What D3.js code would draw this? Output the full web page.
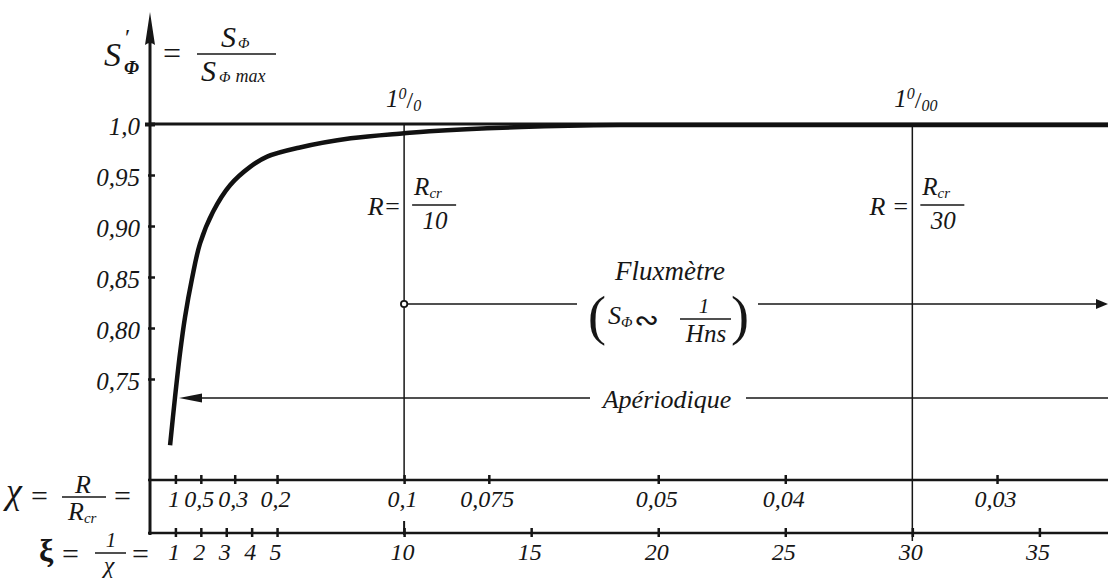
<!DOCTYPE html>
<html>
<head>
<meta charset="utf-8">
<script src="https://cdn.jsdelivr.net/npm/d3@7"></script>
<style>
  body { margin: 0; background: #fff; }
  svg { display: block; }
  text { font-family: "Liberation Serif", "Times New Roman", Tinos, "DejaVu Serif", "Noto Serif", serif; fill: #161616; }
</style>
</head>
<body>
<svg id="chart"></svg>
<script>
// S'_phi, against xi = 1/chi = Rcr/R
const xiValues = [0.79, 0.98, 1.18, 1.38, 1.65, 1.97, 2.48, 3.15, 3.94, 4.61, 5.9, 7.9, 10, 11, 14.6, 18.5, 24, 30, 37.7];
const sValues  = [0.685, 0.731, 0.775, 0.811, 0.848, 0.883, 0.914, 0.940, 0.958, 0.968, 0.977, 0.986, 0.991, 0.993, 0.997, 0.999, 0.999, 0.999, 0.999];

// vertical axis
const yTicks = [0.75, 0.80, 0.85, 0.90, 0.95, 1.0];
const yTickLabels = ['0,75', '0,80', '0,85', '0,90', '0,95', '1,0'];

// upper scale chi = R/Rcr
const chiTicks = [1, 0.5, 0.3, 0.2, 0.1, 0.075, 0.05, 0.04, 0.03];
const chiTickLabels = ['1', '0,5', '0,3', '0,2', '0,1', '0,075', '0,05', '0,04', '0,03'];

// lower scale xi = 1/chi
const xiTicks = [1, 2, 3, 4, 5, 10, 15, 20, 25, 30, 35];
const xiTickLabels = ['1', '2', '3', '4', '5', '10', '15', '20', '25', '30', '35'];

// the two marked resistances
const markerXi = [10, 30];
const markerDen = ['10', '30'];
const markerPermil = ['0', '00'];

const FONT = '"Liberation Serif", "Times New Roman", Tinos, serif';

class DampingChart {
    constructor(_config) {
        this.config = {
            parentElement: _config.parentElement,
            containerWidth: 1108,
            containerHeight: 580,
            axisX: 150,
            xMax: 37.7,
            chiY: 480,
            xiY: 533,
            fluxY: 304,
            aperY: 398
        };
        this.initVis();
    }

    initVis() {
        let vis = this;
        vis.svg = d3.select(vis.config.parentElement)
            .attr('width', vis.config.containerWidth)
            .attr('height', vis.config.containerHeight);

        vis.x = d3.scaleLinear()
            .domain([0, vis.config.xMax])
            .range([vis.config.axisX, vis.config.containerWidth]);

        vis.y = d3.scaleLinear()
            .domain([0.75, 1.0])
            .range([379, 124]);

        vis.renderVis();
    }

    line(x1, y1, x2, y2, w) {
        return this.svg.append('line')
            .attr('x1', x1).attr('y1', y1).attr('x2', x2).attr('y2', y2)
            .attr('stroke', '#161616').attr('stroke-width', w);
    }

    // parts: [string, size, baseline shift, upright?, dx]
    text(x, y, parts, opts = {}) {
        if (typeof parts === 'string') parts = [[parts, opts.size || 24, 0]];
        const t = this.svg.append('text')
            .attr('x', x).attr('y', y)
            .attr('font-family', FONT)
            .attr('font-style', opts.upright ? 'normal' : 'italic')
            .attr('font-weight', opts.bold ? 'bold' : 'normal')
            .attr('text-anchor', opts.anchor || 'start');
        let prev = 0;
        parts.forEach(p => {
            t.append('tspan')
                .attr('font-size', p[1])
                .attr('dy', p[2] - prev)
                .attr('dx', p[4] || 0)
                .attr('font-style', p[3] ? 'normal' : null)
                .text(p[0]);
            prev = p[2];
        });
        return t;
    }

    renderVis() {
        let vis = this;
        const c = vis.config;
        const W = c.containerWidth;
        const top = vis.y(1.0);

        // level 1,0
        vis.line(c.axisX, top, W, top, 3);

        // vertical lines at R = Rcr/10 and Rcr/30
        markerXi.forEach((xi, i) => {
            const mx = vis.x(xi);
            vis.line(mx, top, mx, i === 0 ? c.chiY : c.xiY + 8, 1.5);
        });
        vis.line(vis.x(10), c.xiY - 12, vis.x(10), c.xiY + 2, 2);

        // vertical axis + arrow
        vis.line(c.axisX, 40, c.axisX, c.xiY + 2, 3);
        vis.svg.append('path')
            .attr('d', `M${c.axisX},12 L${c.axisX + 5},45 Q${c.axisX},41 ${c.axisX - 5},45 Z`)
            .attr('fill', '#161616');

        const yAxis = d3.axisLeft(vis.y)
            .tickValues(yTicks)
            .tickFormat((d, i) => yTickLabels[i])
            .tickSize(0);
        const gy = vis.svg.append('g')
            .attr('transform', `translate(${c.axisX},0)`)
            .call(yAxis);
        gy.select('.domain').remove();
        gy.selectAll('.tick line')
            .attr('x1', (d) => d === 1 ? -5 : -2).attr('x2', 5)
            .attr('stroke', '#161616').attr('stroke-width', (d) => d === 1 ? 4 : 2.5);
        gy.selectAll('.tick text')
            .attr('x', -10).attr('dy', '0.4em')
            .attr('font-family', FONT)
            .attr('font-style', 'italic').attr('font-size', 25).attr('fill', '#161616');

        // chi and xi scales
        vis.line(c.axisX - 2, c.chiY, W, c.chiY, 2.5);
        vis.line(c.axisX - 2, c.xiY, W, c.xiY, 2.5);

        const chiAxis = d3.axisBottom(vis.x)
            .tickValues(chiTicks.map(d => 1 / d))
            .tickFormat((d, i) => chiTickLabels[i])
            .tickSize(0);
        const gChi = vis.svg.append('g')
            .attr('transform', `translate(0,${c.chiY})`)
            .call(chiAxis);
        const xiAxis = d3.axisBottom(vis.x)
            .tickValues(xiTicks)
            .tickFormat((d, i) => xiTickLabels[i])
            .tickSize(0);
        const gXi = vis.svg.append('g')
            .attr('transform', `translate(0,${c.xiY})`)
            .call(xiAxis);
        [gChi, gXi].forEach((g) => {
            g.select('.domain').remove();
            g.selectAll('.tick line')
                .attr('y1', -5).attr('y2', 4)
                .attr('stroke', '#161616').attr('stroke-width', 2.5);
            g.selectAll('.tick text')
                .attr('y', 27).attr('dy', 0).attr('dx', -2)
                .attr('font-family', FONT)
                .attr('font-style', 'italic').attr('font-size', 24).attr('fill', '#161616');
        });

        // curve
        vis.svg.append('path')
            .datum(d3.zip(xiValues, sValues))
            .attr('d', d3.line()
                .x(d => vis.x(d[0]))
                .y(d => vis.y(d[1]))
                .curve(d3.curveCatmullRom.alpha(0.5)))
            .attr('fill', 'none')
            .attr('stroke', '#111')
            .attr('stroke-width', 4.5);

        // y-axis title  S'_phi = S_phi / S_phi max
        vis.text(104, 66, 'S', {size: 34});
        vis.text(125, 45, '\u2032', {size: 24, upright: true});
        vis.text(124, 74, 'Φ', {size: 19, bold: true});
        vis.text(163, 64, '=', {size: 32, upright: true});
        vis.text(221, 47, [['S', 30, 0], ['Φ', 15, 1, false, 2]]);
        vis.line(197, 54, 276, 54, 1.5);
        vis.text(201, 81, [['S', 30, 0], ['Φ', 15, 1, false, 3], ['max', 18, 1, false, 5]]);

        // markers: 1 0/0 , R = Rcr/10 ...
        markerXi.forEach((xi, i) => {
            const mx = vis.x(xi);
            vis.text(mx - 18, 107, [['1', 25, 0], ['0', 16, -8], ['/', 24, 1, true], [markerPermil[i], 16, 4]]);
            vis.text(mx - 3, 215, i === 0 ? 'R=' : 'R =', {size: 26, anchor: 'end'});
            vis.text(mx + 10, 195, [['R', 25, 0], ['cr', 15, 3]]);
            vis.line(mx + 8, 205, mx + 52, 205, 1.3);
            vis.text(mx + 31, 229, markerDen[i], {size: 25, anchor: 'middle'});
        });

        // Fluxmetre
        const fy = c.fluxY;
        vis.text(670, 280, 'Fluxmètre', {size: 27, anchor: 'middle'});
        vis.svg.append('circle')
            .attr('cx', vis.x(10)).attr('cy', fy).attr('r', 3.2)
            .attr('fill', '#fff').attr('stroke', '#161616').attr('stroke-width', 1.8);
        vis.line(vis.x(10) + 3, fy, 577, fy, 1.5);
        vis.line(758, fy, W - 10, fy, 1.5);
        vis.svg.append('path')
            .attr('d', `M${W},${fy} L${W - 12},${fy - 5} L${W - 12},${fy + 5} Z`)
            .attr('fill', '#161616');
        vis.text(588, 334, [['(', 54, 0, true], ['S', 26, -10, false, 2], ['Φ', 15, -7], ['∾', 30, -4, true, 2]]);
        vis.text(704, 313, '1', {size: 21, anchor: 'middle'});
        vis.line(680, 319, 731, 319, 1.3);
        vis.text(706, 342, 'Hns', {size: 25, anchor: 'middle'});
        vis.text(731, 334, ')', {size: 54, upright: true});

        // Aperiodique
        const ay = c.aperY;
        vis.text(667, 408, 'Apériodique', {size: 26, anchor: 'middle'});
        vis.line(200, ay, 590, ay, 1.5);
        vis.line(746, ay, W, ay, 1.5);
        vis.svg.append('path')
            .attr('d', `M179,${ay} L202,${ay - 4.5} L202,${ay + 4.5} Z`)
            .attr('fill', '#161616');

        // scale titles at the bottom left
        vis.text(6, 503, 'χ', {size: 36});
        vis.text(31, 506, '=', {size: 30, upright: true});
        vis.text(83, 493, 'R', {size: 26, anchor: 'middle'});
        vis.line(62, 497, 106, 497, 1.5);
        vis.text(68, 520, [['R', 26, 0], ['cr', 15, 3]]);
        vis.text(114, 506, '=', {size: 30, upright: true});

        vis.text(39, 561, 'ξ', {size: 32, upright: true, bold: true});
        vis.text(62, 564, '=', {size: 30, upright: true});
        vis.text(111, 547, '1', {size: 21, anchor: 'middle'});
        vis.line(95, 553, 126, 553, 1.5);
        vis.text(109, 573, 'χ', {size: 24, anchor: 'middle'});
        vis.text(132, 564, '=', {size: 30, upright: true});
    }
}

new DampingChart({parentElement: '#chart'});
</script>
</body>
</html>
